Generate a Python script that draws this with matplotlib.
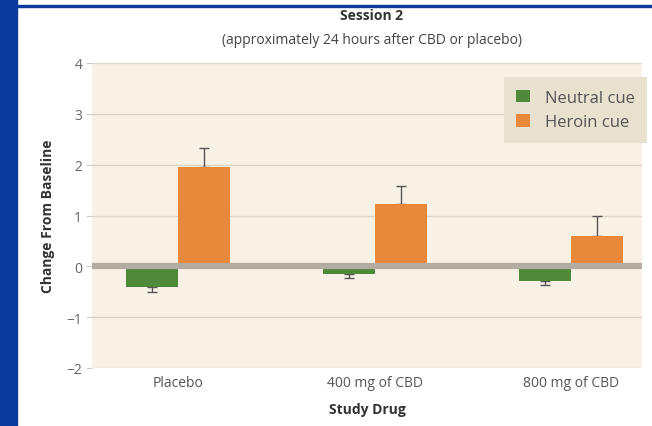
import numpy as np
import matplotlib
matplotlib.use("Agg")
import matplotlib.pyplot as plt
from matplotlib.patches import Rectangle

plt.rcParams['font.family'] = ['Open Sans', 'DejaVu Sans']

# data
drugs = ["Placebo", "400 mg of CBD", "800 mg of CBD"]
neutral = [-0.40, -0.15, -0.28]
neutral_err = [0.10, 0.08, 0.08]
heroin = [1.95, 1.22, 0.60]
heroin_err = [0.38, 0.37, 0.40]
yticks = [-2, -1, 0, 1, 2, 3, 4]

green = "#4f8a3b"
orange = "#e8883a"
bg = "#f8f1e6"

fig = plt.figure(figsize=(6.52, 4.27), dpi=100)
fig.patch.set_facecolor("white")
# blue frame bits of the page
fig.patches.append(Rectangle((0, 0), 17/652, 1, transform=fig.transFigure,
                             color="#0b3a9c", zorder=0))
fig.patches.append(Rectangle((0, 1-8/427), 1, 2/427, transform=fig.transFigure,
                             color="#0b3a9c", zorder=0))

ax = fig.add_axes([92/652, 1-369/427, 550/652, 305/427])
ax.set_facecolor(bg)

x = np.arange(len(drugs))
w = 0.265
ax.bar(x - w/2, neutral, w, color=green, zorder=3, label="Neutral cue")
ax.bar(x + w/2, heroin, w, color=orange, zorder=3, label="Heroin cue")
ax.errorbar(x - w/2, neutral, yerr=[neutral_err, [0]*3], fmt="none",
            ecolor="#555555", elinewidth=1, capsize=3.5, capthick=1, zorder=2)
ax.errorbar(x + w/2, heroin, yerr=[[0]*3, heroin_err], fmt="none",
            ecolor="#555555", elinewidth=1, capsize=3.5, capthick=1, zorder=2)

ax.axhline(0, color="#b3aca3", lw=4.5, zorder=4)
for t in yticks:
    if t != 0:
        ax.axhline(t, color="#ddd6ca", lw=1, zorder=1)

ax.set_ylim(-2, 4)
ax.set_xlim(-0.44, 2.36)
ax.set_yticks(yticks)
ax.set_yticklabels([str(t).replace("-", "\u2212") for t in yticks])
ax.set_xticks(x)
ax.set_xticklabels(drugs)
ax.tick_params(axis="y", length=4, color="#cccccc", labelsize=10, labelcolor="#666666", pad=3)
ax.tick_params(axis="x", length=0, labelsize=10, labelcolor="#555555", pad=5)
for s in ax.spines.values():
    s.set_visible(False)

ax.set_ylabel("Change From Baseline", fontsize=10, fontweight="bold", color="#333333", labelpad=8)
ax.set_xlabel("Study Drug", fontsize=10, fontweight="bold", color="#333333", labelpad=9)

fig.text(0.57, 1-16/427, "Session 2", ha="center", va="center",
         fontsize=10, fontweight="bold", color="#333333")
fig.text(0.57, 1-41/427, "(approximately 24 hours after CBD or placebo)",
         ha="center", va="center", fontsize=10, color="#444444")

leg = ax.legend(loc="upper right", bbox_to_anchor=(1.018, 0.97), frameon=True,
                fancybox=False, fontsize=12, handlelength=0.8, handleheight=0.8,
                handletextpad=0.9, borderpad=0.75, labelspacing=0.5,
                borderaxespad=0.3)
leg.get_frame().set_facecolor("#e9e1cf")
leg.get_frame().set_edgecolor("none")
leg.get_frame().set_alpha(1)
for t in leg.get_texts():
    t.set_color("#555555")

fig.savefig("out.png", dpi=100)
